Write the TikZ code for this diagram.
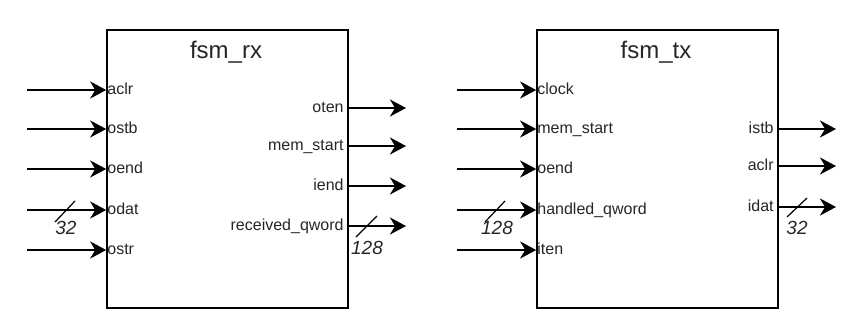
\documentclass[tikz,border=0pt]{standalone}
\usepackage{fontspec}
\setmainfont{Liberation Sans}
\usetikzlibrary{arrows.meta}

\begin{document}
\begin{tikzpicture}[x=1pt,y=-1pt,
    fsmbox/.style={draw,line width=1.6pt,minimum width=241pt,minimum height=278pt,inner sep=0pt},
    fsmname/.style={font=\fontsize{24}{28}\selectfont,text=black!85},
    portin/.style={anchor=west,inner xsep=1pt,inner ysep=0pt,text height=11pt,text depth=3pt,font=\fontsize{16}{18}\selectfont,text=black!85},
    portout/.style={portin,anchor=east,inner xsep=5pt},
    sig/.style={line width=2pt,-{Stealth[length=16pt,width=17pt,inset=5pt]}},
    buswidth/.style={font=\fontsize{19}{21}\selectfont\itshape,text=black!85,inner sep=0pt}]
            \useasboundingbox (0,0) rectangle (865,311);

            % fsm_rx
            \node[fsmbox] (rx) at (227.5,169) {};
            \node[fsmname] (rxname) at (226,52) {fsm\_rx};

            \node[portin] (rxaclr) at (rx.west |- 0,90) {aclr};
            \node[portin] (rxostb) at (rx.west |- 0,129) {ostb};
            \node[portin] (rxoend) at (rx.west |- 0,169) {oend};
            \node[portin] (rxodat) at (rx.west |- 0,210) {odat};
            \node[portin] (rxostr) at (rx.west |- 0,250) {ostr};
            \coordinate (rxaclrin) at (27,90);
            \coordinate (rxostbin) at (27,129);
            \coordinate (rxoendin) at (27,169);
            \coordinate (rxodatin) at (27,210);
            \coordinate (rxostrin) at (27,250);
            \draw[sig] (rxaclrin) -- (rxaclr.west);
            \draw[sig] (rxostbin) -- (rxostb.west);
            \draw[sig] (rxoendin) -- (rxoend.west);
            \draw[sig] (rxodatin) -- (rxodat.west);
            \draw[sig] (rxostrin) -- (rxostr.west);

            \node[portout] (rxoten) at (rx.east |- 0,108) {oten};
            \node[portout] (rxmemstart) at (rx.east |- 0,146) {mem\_start};
            \node[portout] (rxiend) at (rx.east |- 0,186) {iend};
            \node[portout] (rxqword) at (rx.east |- 0,226) {received\_qword};
            \coordinate (rxotenout) at (406,108);
            \coordinate (rxmemstartout) at (406,146);
            \coordinate (rxiendout) at (406,186);
            \coordinate (rxqwordout) at (406,226);
            \draw[sig] (rxoten.east) -- (rxotenout);
            \draw[sig] (rxmemstart.east) -- (rxmemstartout);
            \draw[sig] (rxiend.east) -- (rxiendout);
            \draw[sig] (rxqword.east) -- (rxqwordout);

            \draw[line width=1.2pt] (55,222) -- (75,201);
            \node[buswidth] (rxodatw) at (66,228) {32};
            \draw[line width=1.2pt] (356,237) -- (377,216);
            \node[buswidth] (rxqwordw) at (367,248) {128};

            % fsm_tx
            \node[fsmbox] (tx) at (657.5,169) {};
            \node[fsmname] (txname) at (656,52) {fsm\_tx};

            \node[portin] (txclock) at (tx.west |- 0,90) {clock};
            \node[portin] (txmemstart) at (tx.west |- 0,129) {mem\_start};
            \node[portin] (txoend) at (tx.west |- 0,169) {oend};
            \node[portin] (txqword) at (tx.west |- 0,210) {handled\_qword};
            \node[portin] (txiten) at (tx.west |- 0,250) {iten};
            \coordinate (txclockin) at (457,90);
            \coordinate (txmemstartin) at (457,129);
            \coordinate (txoendin) at (457,169);
            \coordinate (txqwordin) at (457,210);
            \coordinate (txitenin) at (457,250);
            \draw[sig] (txclockin) -- (txclock.west);
            \draw[sig] (txmemstartin) -- (txmemstart.west);
            \draw[sig] (txoendin) -- (txoend.west);
            \draw[sig] (txqwordin) -- (txqword.west);
            \draw[sig] (txitenin) -- (txiten.west);

            \node[portout] (txistb) at (tx.east |- 0,129) {istb};
            \node[portout] (txaclr) at (tx.east |- 0,166) {aclr};
            \node[portout] (txidat) at (tx.east |- 0,207) {idat};
            \coordinate (txistbout) at (836,129);
            \coordinate (txaclrout) at (836,166);
            \coordinate (txidatout) at (836,207);
            \draw[sig] (txistb.east) -- (txistbout);
            \draw[sig] (txaclr.east) -- (txaclrout);
            \draw[sig] (txidat.east) -- (txidatout);

            \draw[line width=1.2pt] (485,222) -- (505,201);
            \node[buswidth] (txqwordw) at (497,228) {128};
            \draw[line width=1.2pt] (787,217) -- (807,198);
            \node[buswidth] (txidatw) at (797,228) {32};
\end{tikzpicture}
\end{document}
